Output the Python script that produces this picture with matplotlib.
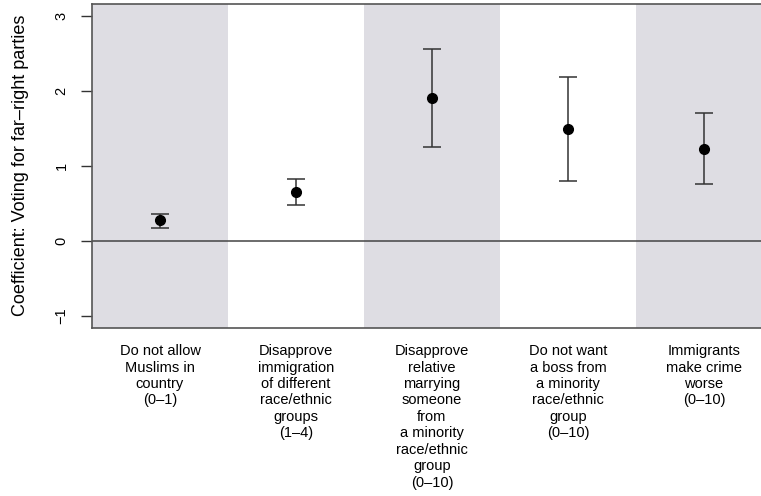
import matplotlib
matplotlib.use('Agg')
import matplotlib.pyplot as plt
import numpy as np

plt.rcParams['font.family'] = ['Liberation Sans', 'DejaVu Sans']

# coefficients and 95% intervals
labels = ['Do not allow\nMuslims in\ncountry\n(0\u20131)',
          'Disapprove\nimmigration\nof different\nrace/ethnic\ngroups\n(1\u20134)',
          'Disapprove\nrelative\nmarrying\nsomeone\nfrom\na minority\nrace/ethnic\ngroup\n(0\u201310)',
          'Do not want\na boss from\na minority\nrace/ethnic\ngroup\n(0\u201310)',
          'Immigrants\nmake crime\nworse\n(0\u201310)']
coef = [0.27, 0.65, 1.90, 1.49, 1.23]
lower = [0.17, 0.48, 1.25, 0.80, 0.76]
upper = [0.36, 0.82, 2.56, 2.19, 1.70]

pos = np.arange(1, len(coef) + 1)
coef = np.array(coef)
err = np.array([coef - np.array(lower), np.array(upper) - coef])

fig = plt.figure(figsize=(7.61, 4.96), dpi=100)
# the right edge of the plot box runs past the image, as in the original
ax = fig.add_axes([92 / 761, 1 - 327.5 / 496, 680 / 761, 323.5 / 496])

for p in pos:
    if p % 2 == 1:
        ax.axvspan(p - 0.5, p + 0.5, color='#dedde3', lw=0, zorder=0)

ax.axhline(0, color='#444444', lw=1.1, zorder=1)
ax.errorbar(pos, coef, yerr=err, fmt='o', color='black', ms=7,
            ecolor='#333333', elinewidth=1.1, capsize=6.2, capthick=1.1, zorder=3)

ax.set_xlim(0.5, 5.5)
ax.set_ylim(-1.16, 3.16)
ax.set_yticks([-1, 0, 1, 2, 3])
ax.set_yticklabels(['\u22121', '0', '1', '2', '3'], rotation=90, va='center', fontsize=10.5)
ax.tick_params(axis='y', length=8, width=1, color='#333333', pad=9)
ax.set_xticks(pos)
ax.set_xticklabels(labels, fontsize=10.5, linespacing=1.22)
ax.tick_params(axis='x', length=0, pad=12)

for s in ax.spines.values():
    s.set_color('#555555')
    s.set_linewidth(1.2)

ax.set_ylabel('Coefficient: Voting for far\u2013right parties', fontsize=13, labelpad=18)

fig.savefig('out.png', dpi=100)
